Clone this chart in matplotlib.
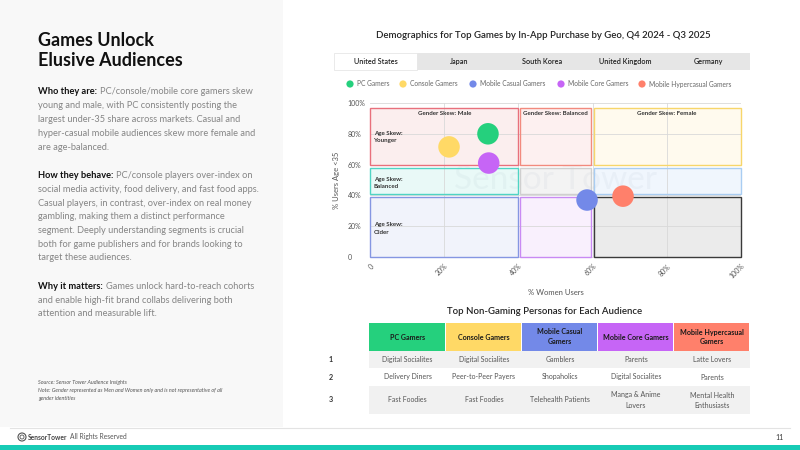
import matplotlib
matplotlib.use("Agg")
import matplotlib.pyplot as plt
from matplotlib.patches import Rectangle, Circle

plt.rcParams['font.family'] = ['Lato', 'DejaVu Sans']

# ---- data ----
segments = ['PC Gamers', 'Console Gamers', 'Mobile Casual Gamers', 'Mobile Core Gamers', 'Mobile Hypercasual Gamers']
seg_colors = ['#25d07d', '#ffd966', '#7389e8', '#c665f6', '#ff806b']
pct_women = [31.8, 21.3, 58.5, 32.0, 68.2]
pct_under35 = [80, 71.5, 37, 61, 39.5]

tabs = ['United States', 'Japan', 'South Korea', 'United Kingdom', 'Germany']

x_ticks = [0, 20, 40, 60, 80, 100]
x_tick_labels = ['0', '20%', '40%', '60%', '80%', '100%']
y_ticks = [0, 20, 40, 60, 80, 100]
y_tick_labels = ['0', '20%', '40%', '60%', '80%', '100%']

# quadrant boxes: (x0, x1, y0, y1, face, edge)
zones = [
    (0, 39.8, 60, 97, '#fbebec', '#e8707c'),
    (40.4, 59.6, 60, 97, '#fdeeee', '#f28a7e'),
    (60.4, 100, 60, 97, '#fffaec', '#f7d66a'),
    (0, 39.8, 41, 58, '#e6f8f6', '#4fd4c4'),
    (40.4, 59.6, 41, 58, '#f1f1f1', '#cfcfcf'),
    (60.4, 100, 41, 58, '#eef5fd', '#a9cdf2'),
    (0, 39.8, 0, 39, '#eff2fb', '#8596e2'),
    (40.4, 59.6, 0, 39, '#f8eefd', '#c98af3'),
    (60.4, 100, 0, 39, '#e8e8e8', '#3a3a3a'),
]
gender_labels = [(20, 'Gender Skew: Male'), (50, 'Gender Skew: Balanced'), (80, 'Gender Skew: Female')]
age_labels = [(78, 'Age Skew:\nYounger'), (48, 'Age Skew:\nBalanced'), (18.5, 'Age Skew:\nOlder')]

persona_rows = [
    ['Digital Socialites', 'Digital Socialites', 'Gamblers', 'Parents', 'Latte Lovers'],
    ['Delivery Diners', 'Peer-to-Peer Payers', 'Shopaholics', 'Digital Socialites', 'Parents'],
    ['Fast Foodies', 'Fast Foodies', 'Telehealth Patients', 'Manga & Anime\nLovers', 'Mental Health\nEnthusiasts'],
]
header_labels = ['PC Gamers', 'Console Gamers', 'Mobile Casual\nGamers', 'Mobile Core Gamers', 'Mobile Hypercasual\nGamers']

paragraphs = [
    ('Who they are:', ['PC/console/mobile core gamers skew',
                       'young and male, with PC consistently posting the',
                       'largest under-35 share across markets. Casual and',
                       'hyper-casual mobile audiences skew more female and',
                       'are age-balanced.'], 92),
    ('How they behave:', ['PC/console players over-index on',
                          'social media activity, food delivery, and fast food apps.',
                          'Casual players, in contrast, over-index on real money',
                          'gambling, making them a distinct performance',
                          'segment. Deeply understanding segments is crucial',
                          'both for game publishers and for brands looking to',
                          'target these audiences.'], 175.5),
    ('Why it matters:', ['Games unlock hard-to-reach cohorts',
                         'and enable high-fit brand collabs delivering both',
                         'attention and measurable lift.'], 286.5),
]

# ---- figure ----
fig = plt.figure(figsize=(8, 4.5), dpi=100)
fig.patch.set_facecolor('white')

# overlay axes in pixel coordinates
ov = fig.add_axes([0, 0, 1, 1])
ov.set_xlim(0, 800)
ov.set_ylim(450, 0)
ov.axis('off')
ov.set_zorder(0)

ov.add_patch(Rectangle((0, 0), 283, 427, color='#f8f8f8', lw=0))
ov.plot([10, 790], [428, 428], color='#e3e3e3', lw=0.8)
ov.add_patch(Rectangle((0, 445), 800, 5, color='#17cbb5', lw=0))

ov.text(38, 40, 'Games Unlock', fontsize=13, fontweight='bold', color='#111111', va='center')
ov.text(38, 61, 'Elusive Audiences', fontsize=13, fontweight='bold', color='#111111', va='center')

renderer = fig.canvas.get_renderer()
line_h = 13.75
for label, lines, y0 in paragraphs:
    t = ov.text(38, y0, label, fontsize=6.7, fontweight='bold', color='#111111', va='center')
    bb = t.get_window_extent(renderer)
    ov.text(bb.x1 + 3, y0, lines[0], fontsize=6.7, color='#858585', va='center')
    for i, ln in enumerate(lines[1:], start=1):
        ov.text(38, y0 + i * line_h, ln, fontsize=6.7, color='#858585', va='center')

ov.text(38, 382, 'Source: Sensor Tower Audience Insights', fontsize=3.9, style='italic', color='#555555', va='center')
ov.text(38, 390, 'Note: Gender represented as Men and Women only and is not representative of all',
        fontsize=3.9, style='italic', color='#555555', va='center')
ov.text(38, 398, 'gender identities', fontsize=3.9, style='italic', color='#555555', va='center')

# footer
ov.add_patch(Circle((22, 437), 4, fill=False, ec='#555555', lw=0.8))
ov.add_patch(Circle((22, 437), 2, fill=False, ec='#555555', lw=0.6))
ov.text(28, 437, 'SensorTower', fontsize=4.8, fontweight='bold', color='#444444', va='center')
ov.text(70, 437, 'All Rights Reserved', fontsize=4.8, color='#555555', va='center')
ov.text(784, 437, '11', fontsize=5, color='#333333', va='center', ha='right')

# chart title and tabs
ov.text(543, 36, 'Demographics for Top Games by In-App Purchase by Geo, Q4 2024 - Q3 2025',
        fontsize=6.9, fontweight='semibold', color='#222222', ha='center', va='center')
tab_w = (750 - 334) / len(tabs)
ov.add_patch(Rectangle((334 + tab_w, 53), tab_w * (len(tabs) - 1), 17, color='#e6e6e6', lw=0))
ov.add_patch(Rectangle((334, 53), tab_w, 17, fc='white', ec='#e6e6e6', lw=0.6))
for i, name in enumerate(tabs):
    ov.text(334 + tab_w * (i + 0.5), 61.5, name, fontsize=5.2, fontweight='semibold',
            color='#222222', ha='center', va='center')

# legend
leg_x = [350, 403, 473, 561, 642]
for k, xi in enumerate(leg_x):
    ov.add_patch(Circle((xi, 84), 3.6, color=seg_colors[k], lw=0))
    ov.text(xi + 7, 84, segments[k], fontsize=4.8, color='#666666', va='center')

# table
ov.text(545, 311, 'Top Non-Gaming Personas for Each Audience', fontsize=6.9, fontweight='semibold',
        color='#222222', ha='center', va='center')
col_edges = [369, 446, 522, 598, 674, 750]
row_edges = [323, 351, 368, 386, 414]
row_fills = ['#f1f1f1', 'white', '#f1f1f1']
for c in range(5):
    x0, x1 = col_edges[c], col_edges[c + 1]
    ov.add_patch(Rectangle((x0, row_edges[0]), x1 - x0 - 0.8, row_edges[1] - row_edges[0],
                           color=seg_colors[c], lw=0))
    ov.text((x0 + x1) / 2, (row_edges[0] + row_edges[1]) / 2, header_labels[c], fontsize=5.1,
            fontweight='bold', color='#1a1a1a', ha='center', va='center', linespacing=1.5)
for r in range(3):
    y0, y1 = row_edges[r + 1], row_edges[r + 2]
    ov.add_patch(Rectangle((369, y0), 381, y1 - y0, color=row_fills[r], lw=0))
    ov.text(331, (y0 + y1) / 2, str(r + 1), fontsize=5.2, fontweight='bold', color='#333333',
            ha='center', va='center')
    for c in range(5):
        x0, x1 = col_edges[c], col_edges[c + 1]
        ov.text((x0 + x1) / 2, (y0 + y1) / 2, persona_rows[r][c], fontsize=5, color='#555555',
                ha='center', va='center', linespacing=1.5)

# ---- scatter axes ----
W, H = 800, 450
ax = fig.add_axes([370 / W, (H - 257) / H, (741 - 370) / W, (257 - 103) / H])
ax.set_zorder(1)
ax.patch.set_alpha(0)
ax.set_xlim(0, 100)
ax.set_ylim(0, 100)

for x0, x1, y0, y1, fc, ec in zones:
    ax.add_patch(Rectangle((x0, y0), x1 - x0, y1 - y0, fc=fc, ec='none', zorder=1, alpha=0.85))
    ax.add_patch(Rectangle((x0, y0), x1 - x0, y1 - y0, fill=False, ec=ec, lw=1.0, zorder=3,
                           clip_on=False))
for v in x_ticks[1:]:
    ax.axvline(v, color='#d9d9d9', lw=0.6, zorder=2)
for v in y_ticks[1:]:
    ax.axhline(v, color='#d9d9d9', lw=0.6, zorder=2)

# faint watermark
ax.text(50, 50, 'Sensor Tower', fontsize=24, color='#8fa0b5', alpha=0.08, ha='center', va='center', zorder=2.5)

for x, label in gender_labels:
    ax.text(x, 93.5, label, fontsize=4.4, fontweight='bold', color='#333333', ha='center', va='center', zorder=4)
for y, label in age_labels:
    ax.text(1.0, y, label, fontsize=4.4, fontweight='bold', color='#333333', ha='left', va='center',
            linespacing=1.6, zorder=4)

ax.scatter(pct_women, pct_under35, s=240, c=seg_colors, edgecolors='none', zorder=5, clip_on=False)

ax.set_xticks(x_ticks)
ax.set_xticklabels(x_tick_labels, rotation=45, ha='right', rotation_mode='anchor')
ax.set_yticks(y_ticks)
ax.set_yticklabels(y_tick_labels, ha='left')
ax.tick_params(axis='y', length=0, pad=16, labelsize=5, labelcolor='#555555')
ax.tick_params(axis='x', length=0, pad=4, labelsize=5, labelcolor='#555555')
for s in ['top', 'right', 'left']:
    ax.spines[s].set_visible(False)
ax.spines['bottom'].set_color('#d9d9d9')
ax.spines['bottom'].set_linewidth(0.6)
ax.set_xlabel('% Women Users', fontsize=5.5, color='#555555')
ax.set_ylabel('% Users Age <35', fontsize=5.5, color='#555555')
ax.yaxis.set_label_coords(-0.08, 0.5)
ax.xaxis.set_label_coords(0.5, -0.21)

fig.savefig('out.png', dpi=100)
